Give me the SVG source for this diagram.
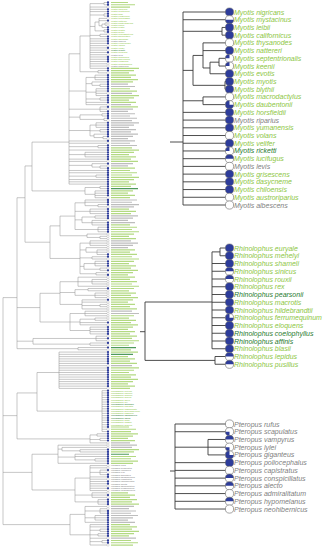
<svg xmlns="http://www.w3.org/2000/svg" width="323" height="550" viewBox="0 0 323 550">
<style>
.tr{fill:none;stroke:#8f8f8f;stroke-width:0.5;vector-effect:non-scaling-stroke}
.sg{fill:none;stroke:#b3d982;stroke-width:1.2;vector-effect:non-scaling-stroke}
.sy{fill:none;stroke:#bdbdbd;stroke-width:1.2;vector-effect:non-scaling-stroke}
.sd{fill:none;stroke:#4f9a5c;stroke-width:1.2;vector-effect:non-scaling-stroke}
.lt{font-family:"Liberation Sans",Arial,sans-serif;font-style:italic;font-size:2.3px}
.pt{font-family:"Liberation Sans",Arial,sans-serif;font-style:italic;font-size:7px}
.g{fill:#8dc63f}.y{fill:#808080}.d{fill:#1f7a2e}
.pl{fill:none;stroke:#3a3a3a;stroke-width:0.9}
</style>
<defs>
<ellipse id="cb" cx="108" cy="0" rx="1.15" ry="0.507" fill="#2d3c9b"/>
<ellipse id="cw" cx="108" cy="0" rx="1.15" ry="0.507" fill="#fff" stroke="#999" stroke-width="0.3" vector-effect="non-scaling-stroke"/>
<g id="pb"><circle r="4.1" fill="#2d3c9b" stroke="#666" stroke-width="0.5"/></g>
<g id="pw"><circle r="4.1" fill="#fff" stroke="#666" stroke-width="0.6"/></g>
<g id="ph"><circle r="4.1" fill="#fff"/><path d="M-4.1 0A4.1 4.1 0 0 1 4.1 0Z" fill="#2d3c9b"/><circle r="4.1" fill="none" stroke="#666" stroke-width="0.6"/></g>
<g id="pbh"><circle r="4.1" fill="#fff"/><path d="M-4.1 0A4.1 4.1 0 0 0 4.1 0Z" fill="#2d3c9b"/><circle r="4.1" fill="none" stroke="#666" stroke-width="0.6"/></g>
<g id="pq"><circle r="4.1" fill="#fff"/><path d="M0 0L-4.1 0A4.1 4.1 0 0 1 0 -4.1Z" fill="#2d3c9b"/><circle r="4.1" fill="none" stroke="#666" stroke-width="0.6"/></g>
<g id="pql"><circle r="4.1" fill="#fff"/><path d="M0 0L0 4.1A4.1 4.1 0 0 1 -4.1 0Z" fill="#2d3c9b"/><circle r="4.1" fill="none" stroke="#666" stroke-width="0.6"/></g>
<g id="p3"><circle r="4.1" fill="#fff"/><path d="M0 0L0 -4.1A4.1 4.1 0 1 0 4.1 0Z" fill="#2d3c9b"/><circle r="4.1" fill="none" stroke="#666" stroke-width="0.6"/></g>
</defs>
<rect width="323" height="550" fill="#fff"/>

<g id="connectors">
<g id="full-tree-branches" transform="translate(0,2.5) scale(1,2.27)">
<path class="tr" d="M90 0.5V29 M90 0.5H104 M104 0V1 M104 0H107 M104 1H107 M90 2H107 M90 3H107 M90 4H107 M90 5.5H104 M104 5V6 M104 5H107 M104 6H107 M90 10.55H95 M95 8.6V12.5 M95 8.6H99 M99 7V10.25 M99 7H107 M99 8H107 M99 10.25H102 M102 9.5V11 M102 11H107 M102 9.5H105 M105 9V10 M105 9H107 M105 10H107 M95 12.5H104 M104 12V13 M104 12H107 M104 13H107 M90 14.5H100 M100 14V15 M100 14H107 M100 15H107 M90 16H107 M90 17H107 M90 18H107 M90 19H107 M90 20H107 M90 21H107 M90 22H107 M90 23H107 M90 24H107 M90 25H107 M90 26H107 M90 27H107 M90 28H107 M90 29H107
M98 30V31 M98 30H107 M98 31H107 M80 14.75V30.5 M80 14.75H90 M80 30.5H98
M95 32V34 M95 32H107 M95 33H107 M95 34H107 M92 35V36.5 M92 35H107 M92 36.5H100 M100 36V37 M100 36H107 M100 37H107 M96 38V41 M96 38H107 M96 39H107 M96 40H107 M96 41H107 M100 42V43 M100 42H107 M100 43H107 M86 44H107 M86 45H107 M86 33V45 M86 33H95 M86 35.75H92 M86 39.5H96 M86 42.5H100
M100 46V48 M100 46H107 M100 47H107 M100 48H107
M80 49.5V51.5 M80 49.5H102 M102 49V50 M102 49H107 M102 50H107 M80 51.5H104 M104 51V52 M104 51H107 M104 52H107
M96 53V55 M96 53H107 M96 54H107 M96 55H107 M100 56V57 M100 56H107 M100 57H107 M94 58V59.5 M94 58H107 M94 59.5H103 M103 59V60 M103 59H107 M103 60H107 M90 54V58.75 M90 54H96 M90 56.5H100 M90 58.75H94
M69 61H107 M69 62H107 M98 63V64 M98 63H107 M98 64H107 M69 63.5H98 M69 65H107 M85 66V68 M85 66H107 M85 67H107 M85 68H107 M69 67H85 M69 69H107 M69 70H107 M92 71V72.5 M92 71H107 M92 72.5H100 M100 72V73 M100 72H107 M100 73H107 M69 71.75H92 M69 74H107 M69 75H107 M96 76V77 M96 76H107 M96 77H107 M69 76.5H96 M69 78H107 M69 79H107 M69 80H107
M69 22.6V80 M69 22.6H80 M69 39H86 M69 47H100 M69 50.5H80 M69 56.4H90
M85 81.5V84.5 M85 81.5H100 M100 81V82 M100 81H107 M100 82H107 M85 84.5H95 M95 83V86 M95 83H107 M95 84H107 M95 85H107 M95 86H107
M32 61.5V83 M32 61.5H69 M32 83H85
M85 87V89.5 M85 87H107 M85 88H107 M85 89.5H98 M98 89V90 M98 89H107 M98 90H107 M90 91V93 M90 91H107 M90 92H107 M90 93H107 M82 94.5V97 M82 94.5H95 M95 94V95 M95 94H107 M95 95H107 M82 97H92 M92 96V98 M92 96H107 M92 97H107 M92 98H107 M98 99V101 M98 99H107 M98 100H107 M98 101H107 M75 88.25V100 M75 88.25H85 M75 92H90 M75 95.75H82 M75 100H98
M87 102V103.5 M87 102H107 M87 103.5H100 M100 103V104 M100 103H107 M100 104H107
M60 94.1V102.75 M60 94.1H75 M60 102.75H87
M90 105V107 M90 105H107 M90 106H107 M90 107H107 M86 108V110 M86 108H107 M86 110H97 M97 109V111 M97 109H107 M97 110H107 M97 111H107 M92 112V113 M92 112H107 M92 113H107 M84 115V117.5 M84 115H95 M95 114V116 M95 114H107 M95 115H107 M95 116H107 M84 117.5H100 M100 117V118 M100 117H107 M100 118H107 M96 119V120 M96 119H107 M96 120H107 M80 106V119.5 M80 106H90 M80 109H86 M80 112.5H92 M80 116.25H84 M80 119.5H96
M50 98.4V112.75 M50 98.4H60 M50 112.75H80
M25 72V105.6 M25 72H32 M25 105.6H50
M78 121V125 M78 121H107 M78 123H92 M92 122V124 M92 122H107 M92 123H107 M92 124H107 M78 125H107 M75 126.5V129 M75 126.5H88 M88 126V127 M88 126H107 M88 127H107 M75 129H95 M95 128V130 M95 128H107 M95 129H107 M95 130H107 M82 131V135 M82 131H107 M82 132H107 M82 133.5H100 M100 133V134 M100 133H107 M100 134H107 M82 135H107 M60 123V133 M60 123H78 M60 127.75H75 M60 133H82
M85 136V138 M85 136H107 M85 137H107 M85 138H107 M80 139.5V142 M80 139.5H95 M95 139V140 M95 139H107 M95 140H107 M80 141H107 M80 142H107 M90 143V146 M90 143H107 M90 144H107 M90 145H107 M90 146H107 M70 137V144.5 M70 137H85 M70 140.75H80 M70 144.5H90
M40 128.1V140.75 M40 128.1H60 M40 140.75H70
M96 147V149 M96 147H107 M96 148H107 M96 149H107 M90 150V151 M90 150H107 M90 151H107 M33 148V150.5 M33 148H96 M33 150.5H90 M78 152V153 M78 152H107 M78 153H107
M17 86V152.5 M17 86H25 M17 134.4H40 M17 149.2H33 M17 152.5H78
M59 154V170 M59 154H107 M59 155H107 M59 156H107 M59 157H107 M59 158H107 M59 159H107 M59 160H107 M59 161H107 M59 162H107 M59 163H107 M59 164H107 M59 165H107 M59 166H107 M59 167H107 M59 168H107 M59 169H107 M59 170H107
M102 171V189 M102 171H107 M102 172H107 M102 173H107 M102 174H107 M102 175H107 M102 176H107 M102 177H107 M102 178H107 M102 179H107 M102 180H107 M102 181H107 M102 182H107 M102 183H107 M102 184H107 M102 185H107 M102 186H107 M102 187H107 M102 188H107 M102 189H107
M37 163V180 M37 163H59 M37 180H102
M97 190V191 M97 190H107 M97 191H107 M100 192V193 M100 192H107 M100 193H107 M90 190.5V194 M90 190.5H97 M90 192.5H100 M90 194H107
M17 172V192.25 M17 172H37 M17 192.25H90
M62 196V197.5 M62 196H107 M62 197.5H80 M80 197V198 M80 197H107 M80 198H107 M75 199V201.5 M75 199H107 M75 200H107 M75 201.5H95 M95 201V202 M95 201H107 M95 202H107 M58 195V203 M58 195H107 M58 196.75H62 M58 200.25H75 M58 203H107
M90 204V215 M90 204H107 M90 205H107 M90 207H100 M100 206V208 M100 206H107 M100 207H107 M100 208H107 M90 209H107 M90 210H107 M90 211H107 M90 212H107 M90 213H107 M90 214H107 M90 215H107
M92 216V218 M92 216H107 M92 217H107 M92 218H107 M98 219V221 M98 219H107 M98 220H107 M98 221H107 M75 209.5V220 M75 209.5H90 M75 217H92 M75 220H98
M32 199V214.75 M32 199H58 M32 214.75H75
M85 222V229 M85 222H107 M85 224H100 M100 223V225 M100 223H107 M100 224H107 M100 225H107 M85 227H95 M95 226V228 M95 226H107 M95 227H107 M95 228H107 M85 229H107 M90 230V239 M90 230H107 M90 231H107 M90 232.5H100 M100 232V233 M100 232H107 M100 233H107 M90 234.5H98 M98 234V235 M98 234H107 M98 235H107 M90 236H107 M90 237.5H102 M102 237V238 M102 237H107 M102 238H107 M90 239H107 M70 225.5V234.5 M70 225.5H85 M70 234.5H90
M3 130V230 M3 130H17 M3 182H17 M3 207H32 M3 230H70"/>
</g>
<g id="panel-branches">
<path class="pl" d="M170 142H183 M183 12V205 M183 12H226 M183 19.72H226 M183 31.3H222 M222 27.44V35.16 M222 27.44H226 M222 35.16H226 M183 70.39H193 M193 55.43V85.34 M193 55.43H203 M203 42.88V67.97 M203 42.88H226 M203 50.6H226 M203 67.97H210 M210 62.18V73.76 M210 62.18H219 M219 58.32V66.04 M219 58.32H226 M219 66.04H226 M210 73.76H226 M193 85.34H225 M225 81.48V89.2 M225 81.48H226 M225 89.2H226 M183 100.78H203 M203 96.92V104.64 M203 96.92H226 M203 104.64H226 M183 112.36H226 M183 120.08H226 M183 127.8H226 M183 135.52H226 M183 143.24H226 M183 150.96H226 M183 158.68H226 M183 166.4H226 M183 174.12H226 M183 181.84H226 M183 189.56H226 M183 197.28H226 M183 205H226"/>
<path class="pl" d="M140 331.7H145 M145 302V360.4 M145 302H212 M212 251.9V348.75 M212 251.9H220 M220 248V255.75 M220 248H226 M220 255.75H226 M212 263.5H226 M212 271.25H226 M212 279H226 M212 286.75H226 M212 294.5H226 M212 302.25H226 M212 310H226 M212 317.75H226 M212 325.5H226 M212 333.25H226 M212 341H226 M212 348.75H226 M145 360.4H215 M215 356.5V364.25 M215 356.5H226 M215 364.25H226"/>
<path class="pl" d="M170 471H175 M175 424V509.03 M175 424H226 M175 431.73H226 M175 447.19H208 M208 439.46V454.92 M208 439.46H226 M208 447.19H226 M208 454.92H226 M175 462.65H226 M175 470.38H226 M175 478.11H226 M175 485.84H226 M175 493.57H226 M175 501.3H226 M175 509.03H226"/>
</g>
</g>

<g id="full-tree-tips" transform="translate(0,2.5) scale(1,2.27)">
<path class="sg" d="M111 0H128M111 1H135M111 2H130M111 29H139M111 30H134M111 31H129M111 32H136M111 33H131M111 34H138M111 35H133M111 38H130M111 39H137M111 41H139M111 42H134M111 43H129M111 44H136M111 46H138M111 64H132M111 65H139M111 66H134M111 67H129M111 68H136M111 69H131M111 70H138M111 73H135M111 74H130M111 75H137M111 76H132M111 77H139M111 78H134M111 79H129M111 80H136M111 81H131M111 83H133M111 84H128M111 85H135M111 86H130M111 91H129M111 92H136M111 93H131M111 98H130M111 99H137M111 100H132M111 101H139M111 102H134M111 103H129M111 104H136M111 109H135M111 110H130M111 111H137M111 112H132M111 113H139M111 114H134M111 115H129M111 116H136M111 117H131M111 118H138M111 119H133M111 120H128M111 121H135M111 122H130M111 123H137M111 124H132M111 125H139M111 126H134M111 127H129M111 128H136M111 129H131M111 130H138M111 131H133M111 132H128M111 133H135M111 134H130M111 135H137M111 138H134M111 139H129M111 140H136M111 141H131M111 142H138M111 143H133M111 144H128M111 145H135M111 146H130M111 147H137M111 148H132M111 149H139M111 150H134M111 151H129M111 153H131M111 154H138M111 156H128M111 157H135M111 158H130M111 159H137M111 161H139M111 162H134M111 163H129M111 164H136M111 165H131M111 166H138M111 167H133M111 168H128M111 169H135M111 170H130M111 187H129M111 188H136M111 189H131M111 190H138M111 191H133M111 192H128M111 193H135M111 197H139M111 198H134M111 200H136M111 201H131M111 202H138M111 203H133M111 216H128M111 217H135M111 218H130M111 219H137M111 220H132M111 221H139M111 230H130M111 231H137M111 232H132M111 233H139M111 234H134M111 235H129M111 237H131M111 238H138M111 239H133"/>
<path class="sy" d="M111 36H128M111 37H135M111 40H132M111 45H131M111 47H133M111 48H128M111 49H135M111 50H130M111 51H137M111 52H132M111 53H139M111 54H134M111 55H129M111 56H136M111 57H131M111 58H138M111 59H133M111 60H128M111 61H135M111 62H130M111 63H137M111 71H133M111 72H128M111 87H137M111 88H132M111 89H139M111 90H134M111 94H138M111 95H133M111 96H128M111 97H135M111 105H131M111 106H138M111 107H133M111 108H128M111 136H132M111 137H139M111 160H132M111 194H130M111 195H137M111 196H132M111 222H134M111 223H129M111 224H136M111 225H131M111 226H138M111 227H133M111 228H128M111 229H135M111 236H136"/>
<path class="sd" d="M111 82H138M111 152H136M111 155H133M111 199H129"/>
<use href="#cb" y="0"/><use href="#cb" y="1"/><use href="#cw" y="2"/><use href="#cb" y="3"/><use href="#cb" y="4"/><use href="#cb" y="5"/><use href="#cb" y="6"/><use href="#cw" y="7"/><use href="#cb" y="8"/><use href="#cw" y="9"/><use href="#cw" y="10"/><use href="#cb" y="11"/><use href="#cb" y="12"/><use href="#cb" y="13"/><use href="#cw" y="14"/><use href="#cb" y="15"/><use href="#cb" y="16"/><use href="#cb" y="17"/><use href="#cb" y="18"/><use href="#cw" y="19"/><use href="#cb" y="20"/><use href="#cw" y="21"/><use href="#cb" y="22"/><use href="#cw" y="23"/><use href="#cb" y="24"/><use href="#cb" y="25"/><use href="#cb" y="26"/><use href="#cw" y="27"/><use href="#cw" y="28"/><use href="#cb" y="29"/>
<use href="#cb" y="30"/><use href="#cw" y="31"/><use href="#cb" y="32"/><use href="#cb" y="33"/><use href="#cb" y="34"/><use href="#cb" y="35"/><use href="#cb" y="36"/><use href="#cb" y="37"/><use href="#cb" y="38"/><use href="#cb" y="39"/><use href="#cw" y="40"/><use href="#cb" y="41"/><use href="#cb" y="42"/><use href="#cb" y="43"/><use href="#cb" y="44"/><use href="#cw" y="45"/><use href="#cb" y="46"/><use href="#cw" y="47"/><use href="#cb" y="48"/><use href="#cb" y="49"/><use href="#cb" y="50"/><use href="#cb" y="51"/><use href="#cw" y="52"/><use href="#cb" y="53"/><use href="#cb" y="54"/><use href="#cb" y="55"/><use href="#cb" y="56"/><use href="#cb" y="57"/><use href="#cb" y="58"/><use href="#cb" y="59"/>
<use href="#cw" y="60"/><use href="#cb" y="61"/><use href="#cw" y="62"/><use href="#cb" y="63"/><use href="#cb" y="64"/><use href="#cb" y="65"/><use href="#cb" y="66"/><use href="#cb" y="67"/><use href="#cb" y="68"/><use href="#cb" y="69"/><use href="#cw" y="70"/><use href="#cb" y="71"/><use href="#cw" y="72"/><use href="#cb" y="73"/><use href="#cb" y="74"/><use href="#cb" y="75"/><use href="#cb" y="76"/><use href="#cb" y="77"/><use href="#cb" y="78"/><use href="#cb" y="79"/><use href="#cb" y="80"/><use href="#cb" y="81"/><use href="#cb" y="82"/><use href="#cb" y="83"/><use href="#cb" y="84"/><use href="#cb" y="85"/><use href="#cw" y="86"/><use href="#cb" y="87"/><use href="#cb" y="88"/><use href="#cb" y="89"/>
<use href="#cw" y="90"/><use href="#cb" y="91"/><use href="#cb" y="92"/><use href="#cb" y="93"/><use href="#cb" y="94"/><use href="#cb" y="95"/><use href="#cw" y="96"/><use href="#cb" y="97"/><use href="#cb" y="98"/><use href="#cb" y="99"/><use href="#cb" y="100"/><use href="#cb" y="101"/><use href="#cw" y="102"/><use href="#cw" y="103"/><use href="#cw" y="104"/><use href="#cw" y="105"/><use href="#cw" y="106"/><use href="#cw" y="107"/><use href="#cw" y="108"/><use href="#cw" y="109"/><use href="#cw" y="110"/><use href="#cb" y="111"/><use href="#cb" y="112"/><use href="#cw" y="113"/><use href="#cb" y="114"/><use href="#cb" y="115"/><use href="#cb" y="116"/><use href="#cw" y="117"/><use href="#cb" y="118"/><use href="#cw" y="119"/>
<use href="#cb" y="120"/><use href="#cw" y="121"/><use href="#cw" y="122"/><use href="#cw" y="123"/><use href="#cw" y="124"/><use href="#cw" y="125"/><use href="#cb" y="126"/><use href="#cw" y="127"/><use href="#cw" y="128"/><use href="#cw" y="129"/><use href="#cw" y="130"/><use href="#cb" y="131"/><use href="#cw" y="132"/><use href="#cw" y="133"/><use href="#cw" y="134"/><use href="#cw" y="135"/><use href="#cw" y="136"/><use href="#cw" y="137"/><use href="#cw" y="138"/><use href="#cw" y="139"/><use href="#cw" y="140"/><use href="#cb" y="141"/><use href="#cw" y="142"/><use href="#cb" y="143"/><use href="#cb" y="144"/><use href="#cb" y="145"/><use href="#cb" y="146"/><use href="#cw" y="147"/><use href="#cb" y="148"/><use href="#cw" y="149"/>
<use href="#cb" y="150"/><use href="#cw" y="151"/><use href="#cb" y="152"/><use href="#cw" y="153"/><use href="#cb" y="154"/><use href="#cb" y="155"/><use href="#cb" y="156"/><use href="#cb" y="157"/><use href="#cb" y="158"/><use href="#cb" y="159"/><use href="#cw" y="160"/><use href="#cb" y="161"/><use href="#cb" y="162"/><use href="#cb" y="163"/><use href="#cb" y="164"/><use href="#cb" y="165"/><use href="#cb" y="166"/><use href="#cb" y="167"/><use href="#cb" y="168"/><use href="#cb" y="169"/><use href="#cw" y="170"/><use href="#cb" y="171"/><use href="#cb" y="172"/><use href="#cb" y="173"/><use href="#cb" y="174"/><use href="#cb" y="175"/><use href="#cb" y="176"/><use href="#cb" y="177"/><use href="#cb" y="178"/><use href="#cb" y="179"/>
<use href="#cb" y="180"/><use href="#cb" y="181"/><use href="#cb" y="182"/><use href="#cb" y="183"/><use href="#cb" y="184"/><use href="#cb" y="185"/><use href="#cb" y="186"/><use href="#cb" y="187"/><use href="#cw" y="188"/><use href="#cb" y="189"/><use href="#cb" y="190"/><use href="#cb" y="191"/><use href="#cb" y="192"/><use href="#cb" y="193"/><use href="#cw" y="194"/><use href="#cw" y="195"/><use href="#cw" y="196"/><use href="#cb" y="197"/><use href="#cb" y="198"/><use href="#cb" y="199"/><use href="#cb" y="200"/><use href="#cb" y="201"/><use href="#cb" y="202"/><use href="#cb" y="203"/><use href="#cw" y="204"/><use href="#cw" y="205"/><use href="#cb" y="206"/><use href="#cw" y="207"/><use href="#cb" y="208"/><use href="#cb" y="209"/>
<use href="#cw" y="210"/><use href="#cb" y="211"/><use href="#cb" y="212"/><use href="#cw" y="213"/><use href="#cb" y="214"/><use href="#cw" y="215"/><use href="#cw" y="216"/><use href="#cb" y="217"/><use href="#cw" y="218"/><use href="#cb" y="219"/><use href="#cb" y="220"/><use href="#cb" y="221"/><use href="#cw" y="222"/><use href="#cw" y="223"/><use href="#cb" y="224"/><use href="#cb" y="225"/><use href="#cb" y="226"/><use href="#cb" y="227"/><use href="#cb" y="228"/><use href="#cb" y="229"/><use href="#cb" y="230"/><use href="#cb" y="231"/><use href="#cb" y="232"/><use href="#cb" y="233"/><use href="#cb" y="234"/><use href="#cb" y="235"/><use href="#cw" y="236"/><use href="#cb" y="237"/><use href="#cb" y="238"/><use href="#cw" y="239"/>
</g>

<g id="full-tree-labels" class="lt">
<text x="111" y="10.1" class="g">Myotis nigricans</text>
<text x="111" y="12.4" class="g">Myotis mystacinus</text>
<text x="111" y="14.6" class="g">Myotis leibii</text>
<text x="111" y="16.9" class="g">Myotis californicus</text>
<text x="111" y="19.2" class="g">Myotis thysanodes</text>
<text x="111" y="21.5" class="g">Myotis nattereri</text>
<text x="111" y="23.7" class="g">Myotis septentrionalis</text>
<text x="111" y="26" class="g">Myotis keenii</text>
<text x="111" y="28.3" class="g">Myotis evotis</text>
<text x="111" y="30.5" class="g">Myotis myotis</text>
<text x="111" y="32.8" class="g">Myotis blythii</text>
<text x="111" y="35.1" class="g">Myotis macrodactylus</text>
<text x="111" y="37.4" class="g">Myotis daubentonii</text>
<text x="111" y="39.6" class="g">Myotis horsfieldii</text>
<text x="111" y="41.9" class="y">Myotis riparius</text>
<text x="111" y="44.2" class="g">Myotis yumanensis</text>
<text x="111" y="46.4" class="g">Myotis volans</text>
<text x="111" y="48.7" class="g">Myotis velifer</text>
<text x="111" y="51" class="d">Myotis ricketti</text>
<text x="111" y="53.2" class="g">Myotis lucifugus</text>
<text x="111" y="55.5" class="y">Myotis levis</text>
<text x="111" y="57.8" class="g">Myotis grisescens</text>
<text x="111" y="60.1" class="g">Myotis dasycneme</text>
<text x="111" y="62.3" class="g">Myotis chiloensis</text>
<text x="111" y="64.6" class="g">Myotis austroriparius</text>
<text x="111" y="66.9" class="y">Myotis albescens</text>
<text x="111" y="391.5" class="g">Rhinolophus euryale</text>
<text x="111" y="393.7" class="g">Rhinolophus mehelyi</text>
<text x="111" y="396" class="g">Rhinolophus shameli</text>
<text x="111" y="398.3" class="g">Rhinolophus sinicus</text>
<text x="111" y="400.6" class="g">Rhinolophus rouxii</text>
<text x="111" y="402.8" class="g">Rhinolophus rex</text>
<text x="111" y="405.1" class="d">Rhinolophus pearsonii</text>
<text x="111" y="407.4" class="g">Rhinolophus macrotis</text>
<text x="111" y="409.6" class="g">Rhinolophus hildebrandtii</text>
<text x="111" y="411.9" class="g">Rhinolophus ferrumequinum</text>
<text x="111" y="414.2" class="g">Rhinolophus eloquens</text>
<text x="111" y="416.4" class="d">Rhinolophus coelophyllus</text>
<text x="111" y="418.7" class="d">Rhinolophus affinis</text>
<text x="111" y="421" class="g">Rhinolophus blasii</text>
<text x="111" y="423.3" class="g">Rhinolophus lepidus</text>
<text x="111" y="425.5" class="g">Rhinolophus pusillus</text>
<text x="111" y="466.4" class="y">Pteropus rufus</text>
<text x="111" y="468.7" class="y">Pteropus scapulatus</text>
<text x="111" y="470.9" class="y">Pteropus vampyrus</text>
<text x="111" y="473.2" class="y">Pteropus lylei</text>
<text x="111" y="475.5" class="y">Pteropus giganteus</text>
<text x="111" y="477.7" class="y">Pteropus poliocephalus</text>
<text x="111" y="480" class="y">Pteropus capistratus</text>
<text x="111" y="482.3" class="y">Pteropus conspicillatus</text>
<text x="111" y="484.5" class="y">Pteropus alecto</text>
<text x="111" y="486.8" class="y">Pteropus admiralitatum</text>
<text x="111" y="489.1" class="y">Pteropus hypomelanus</text>
<text x="111" y="491.4" class="y">Pteropus neohibernicus</text>
</g>

<g id="panel-myotis">
<use href="#pb" x="229.5" y="12"/><use href="#pbh" x="229.5" y="19.72"/><use href="#pb" x="229.5" y="27.44"/><use href="#pb" x="229.5" y="35.16"/><use href="#pw" x="229.5" y="42.88"/><use href="#pb" x="229.5" y="50.6"/><use href="#pq" x="229.5" y="58.32"/><use href="#pq" x="229.5" y="66.04"/><use href="#pb" x="229.5" y="73.76"/><use href="#pb" x="229.5" y="81.48"/><use href="#pb" x="229.5" y="89.2"/><use href="#pw" x="229.5" y="96.92"/><use href="#p3" x="229.5" y="104.64"/><use href="#pb" x="229.5" y="112.36"/><use href="#pb" x="229.5" y="120.08"/><use href="#pb" x="229.5" y="127.8"/><use href="#pw" x="229.5" y="135.52"/><use href="#pb" x="229.5" y="143.24"/><use href="#pq" x="229.5" y="150.96"/><use href="#ph" x="229.5" y="158.68"/><use href="#pw" x="229.5" y="166.4"/><use href="#pb" x="229.5" y="174.12"/><use href="#pb" x="229.5" y="181.84"/><use href="#pb" x="229.5" y="189.56"/><use href="#pw" x="229.5" y="197.28"/><use href="#pw" x="229.5" y="205"/>
<g class="pt">
<text x="234" y="14.5" class="g">Myotis nigricans</text>
<text x="234" y="22.22" class="g">Myotis mystacinus</text>
<text x="234" y="29.94" class="g">Myotis leibii</text>
<text x="234" y="37.66" class="g">Myotis californicus</text>
<text x="234" y="45.38" class="g">Myotis thysanodes</text>
<text x="234" y="53.1" class="g">Myotis nattereri</text>
<text x="234" y="60.82" class="g">Myotis septentrionalis</text>
<text x="234" y="68.54" class="g">Myotis keenii</text>
<text x="234" y="76.26" class="g">Myotis evotis</text>
<text x="234" y="83.98" class="g">Myotis myotis</text>
<text x="234" y="91.7" class="g">Myotis blythii</text>
<text x="234" y="99.42" class="g">Myotis macrodactylus</text>
<text x="234" y="107.14" class="g">Myotis daubentonii</text>
<text x="234" y="114.86" class="g">Myotis horsfieldii</text>
<text x="234" y="122.58" class="y">Myotis riparius</text>
<text x="234" y="130.3" class="g">Myotis yumanensis</text>
<text x="234" y="138.02" class="g">Myotis volans</text>
<text x="234" y="145.74" class="g">Myotis velifer</text>
<text x="234" y="153.46" class="d">Myotis ricketti</text>
<text x="234" y="161.18" class="g">Myotis lucifugus</text>
<text x="234" y="168.9" class="y">Myotis levis</text>
<text x="234" y="176.62" class="g">Myotis grisescens</text>
<text x="234" y="184.34" class="g">Myotis dasycneme</text>
<text x="234" y="192.06" class="g">Myotis chiloensis</text>
<text x="234" y="199.78" class="g">Myotis austroriparius</text>
<text x="234" y="207.5" class="y">Myotis albescens</text>
</g>
</g>

<g id="panel-rhinolophus">
<use href="#pb" x="229.5" y="248"/><use href="#pb" x="229.5" y="255.75"/><use href="#pb" x="229.5" y="263.5"/><use href="#ph" x="229.5" y="271.25"/><use href="#ph" x="229.5" y="279"/><use href="#pb" x="229.5" y="286.75"/><use href="#pb" x="229.5" y="294.5"/><use href="#pb" x="229.5" y="302.25"/><use href="#pb" x="229.5" y="310"/><use href="#p3" x="229.5" y="317.75"/><use href="#pb" x="229.5" y="325.5"/><use href="#pb" x="229.5" y="333.25"/><use href="#pb" x="229.5" y="341"/><use href="#pb" x="229.5" y="348.75"/><use href="#ph" x="229.5" y="356.5"/><use href="#ph" x="229.5" y="364.25"/>
<g class="pt">
<text x="234" y="250.5" class="g">Rhinolophus euryale</text>
<text x="234" y="258.25" class="g">Rhinolophus mehelyi</text>
<text x="234" y="266" class="g">Rhinolophus shameli</text>
<text x="234" y="273.75" class="g">Rhinolophus sinicus</text>
<text x="234" y="281.5" class="g">Rhinolophus rouxii</text>
<text x="234" y="289.25" class="g">Rhinolophus rex</text>
<text x="234" y="297" class="d">Rhinolophus pearsonii</text>
<text x="234" y="304.75" class="g">Rhinolophus macrotis</text>
<text x="234" y="312.5" class="g">Rhinolophus hildebrandtii</text>
<text x="234" y="320.25" class="g">Rhinolophus ferrumequinum</text>
<text x="234" y="328" class="g">Rhinolophus eloquens</text>
<text x="234" y="335.75" class="d">Rhinolophus coelophyllus</text>
<text x="234" y="343.5" class="d">Rhinolophus affinis</text>
<text x="234" y="351.25" class="g">Rhinolophus blasii</text>
<text x="234" y="359" class="g">Rhinolophus lepidus</text>
<text x="234" y="366.75" class="g">Rhinolophus pusillus</text>
</g>
</g>

<g id="panel-pteropus">
<use href="#pw" x="229.5" y="424"/><use href="#pql" x="229.5" y="431.73"/><use href="#ph" x="229.5" y="439.46"/><use href="#pql" x="229.5" y="447.19"/><use href="#p3" x="229.5" y="454.92"/><use href="#pb" x="229.5" y="462.65"/><use href="#pw" x="229.5" y="470.38"/><use href="#ph" x="229.5" y="478.11"/><use href="#ph" x="229.5" y="485.84"/><use href="#pw" x="229.5" y="493.57"/><use href="#ph" x="229.5" y="501.3"/><use href="#pw" x="229.5" y="509.03"/>
<g class="pt">
<text x="234" y="426.5" class="y">Pteropus rufus</text>
<text x="234" y="434.23" class="y">Pteropus scapulatus</text>
<text x="234" y="441.96" class="y">Pteropus vampyrus</text>
<text x="234" y="449.69" class="y">Pteropus lylei</text>
<text x="234" y="457.42" class="y">Pteropus giganteus</text>
<text x="234" y="465.15" class="y">Pteropus poliocephalus</text>
<text x="234" y="472.88" class="y">Pteropus capistratus</text>
<text x="234" y="480.61" class="y">Pteropus conspicillatus</text>
<text x="234" y="488.34" class="y">Pteropus alecto</text>
<text x="234" y="496.07" class="y">Pteropus admiralitatum</text>
<text x="234" y="503.8" class="y">Pteropus hypomelanus</text>
<text x="234" y="511.53" class="y">Pteropus neohibernicus</text>
</g>
</g>
</svg>
